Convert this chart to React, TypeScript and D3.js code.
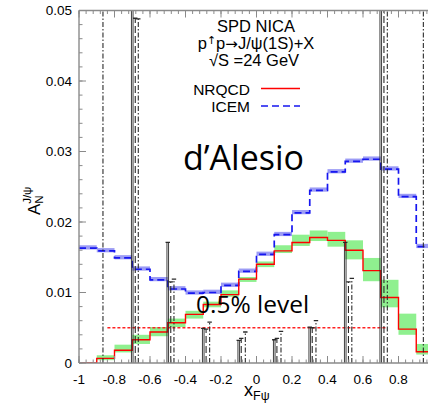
import * as d3 from 'd3'

// bin edges in x_F and the two model curves (one value per bin)
const binEdges = [-1, -0.9, -0.8, -0.7, -0.6, -0.5, -0.4, -0.3, -0.2, -0.1, 0, 0.1, 0.2, 0.3, 0.4, 0.5, 0.6, 0.7, 0.8, 0.9, 1]

const nrqcd = [0, 0.00066, 0.0018, 0.0033, 0.0044, 0.0057, 0.0069, 0.0083, 0.0097, 0.0119, 0.014, 0.0159, 0.0171, 0.0178, 0.0174, 0.016, 0.0131, 0.0093, 0.0048, 0.0016]
const nrqcdLo = [0, 0.0004, 0.0015, 0.0027, 0.0038, 0.0051, 0.0063, 0.0079, 0.0094, 0.0115, 0.0136, 0.0156, 0.0166, 0.0173, 0.0165, 0.0147, 0.0116, 0.0079, 0.004, 0.0012]
const nrqcdHi = [0, 0.0011, 0.0026, 0.004, 0.0051, 0.0063, 0.0074, 0.0087, 0.0103, 0.0122, 0.0144, 0.0167, 0.0182, 0.0188, 0.0186, 0.0174, 0.0149, 0.0118, 0.007, 0.0027]

const icem = [0.0163, 0.0159, 0.0149, 0.0133, 0.0118, 0.0105, 0.0099, 0.01, 0.011, 0.013, 0.0154, 0.0182, 0.0213, 0.0245, 0.0271, 0.0286, 0.0289, 0.0275, 0.0236, 0.0165]
const icemLo = [0.0161, 0.0157, 0.0147, 0.0131, 0.0116, 0.0103, 0.0097, 0.0098, 0.0108, 0.0128, 0.0152, 0.018, 0.0211, 0.0243, 0.0269, 0.0284, 0.0287, 0.0273, 0.0234, 0.0163]
const icemHi = [0.0167, 0.0163, 0.0153, 0.0137, 0.0122, 0.0109, 0.0103, 0.0104, 0.0114, 0.0134, 0.0158, 0.0186, 0.0217, 0.0249, 0.0275, 0.029, 0.0293, 0.0279, 0.024, 0.0169]

// projected statistical errors (drawn from zero up), three samples
const solidX = [-0.7, -0.5, -0.3, -0.1, 0.1, 0.3, 0.5, 0.7]
const solidTop = [0.06, 0.0171, 0.0049, 0.0032, 0.0033, 0.0051, 0.0171, 0.06]
const dashedX = [-0.683, -0.483, -0.284, -0.086, 0.115, 0.314, 0.518, 0.718]
const dashedTop = [0.0489, 0.0115, 0.0048, 0.0035, 0.0035, 0.005, 0.0115, 0.06]
const dashDotX = [-0.865, -0.666, -0.465, -0.264, -0.063, 0.138, 0.335, 0.537, 0.737, 0.94]
const dashDotTop = [0.06, 0.0488, 0.0119, 0.0058, 0.0044, 0.0045, 0.006, 0.012, 0.06, 0.06]

const levelValue = 0.005
const levelRange = [-0.84, 0.73]

const xTicks = [-1, -0.8, -0.6, -0.4, -0.2, 0, 0.2, 0.4, 0.6, 0.8, 1]
const xTickLabels = ['-1', '-0.8', '-0.6', '-0.4', '-0.2', '0', '0.2', '0.4', '0.6', '0.8']
const yTicks = [0, 0.01, 0.02, 0.03, 0.04, 0.05]
const yTickLabels = ['0', '0.01', '0.02', '0.03', '0.04', '0.05']

const W = 428
const H = 405
const x = d3.scaleLinear().domain([-1, 1]).range([79, 434])
const y = d3.scaleLinear().domain([0, 0.05]).range([363, 10.5])

const axisColor = '#8a8a8a'
const sans = '"Liberation Sans", Arial, sans-serif'
const open = '"Open Sans", sans-serif'
const dejavu = '"DejaVu Sans", sans-serif'

function stepPath(vals: number[]) {
  const pts: [number, number][] = vals.map((v, i) => [binEdges[i], v])
  pts.push([binEdges[binEdges.length - 1], vals[vals.length - 1]])
  return d3.line<[number, number]>().x(d => x(d[0])).y(d => y(d[1])).curve(d3.curveStepAfter)(pts) ?? ''
}

function Bars({ xs, tops, dash, double }: { xs: number[]; tops: number[]; dash?: string; double?: boolean }) {
  return (
    <g stroke="#2a2a2a" strokeWidth={1.1} fill="none">
      {xs.map((v, i) => {
        const px = x(v)
        const top = y(Math.min(tops[i], 0.06))
        return (
          <g key={i}>
            {double ? (
              <>
                <line x1={px - 0.8} x2={px - 0.8} y1={y(0)} y2={top} strokeWidth={0.9} />
                <line x1={px + 0.8} x2={px + 0.8} y1={y(0)} y2={top} strokeWidth={0.9} />
              </>
            ) : (
              <line x1={px} x2={px} y1={y(0)} y2={top} strokeDasharray={dash} />
            )}
            {tops[i] < 0.05 && <line x1={px - 2.2} x2={px + 2.2} y1={top} y2={top} strokeWidth={1.3} />}
          </g>
        )
      })}
    </g>
  )
}

export default function App() {
  const bins = nrqcd.map((_, i) => i)
  const xMinor = d3.range(-1, 1.0001, 0.04)
  const yMinor = d3.range(0, 0.0501, 0.002)
  const top = y(0.05)
  const bottom = y(0)
  const left = x(-1)

  return (
    <svg width={W} height={H} style={{ position: 'absolute', left: 0, top: 0, background: '#fff' }}>
      <defs>
        <clipPath id="plot">
          <rect x={left} y={top} width={x(1) - left} height={bottom - top} />
        </clipPath>
      </defs>

      <g clipPath="url(#plot)">
        {/* uncertainty bands */}
        {bins.map(i => (
          <rect key={'g' + i} x={x(binEdges[i])} width={x(binEdges[i + 1]) - x(binEdges[i])}
            y={y(nrqcdHi[i])} height={y(nrqcdLo[i]) - y(nrqcdHi[i])} fill="#8ff08f" />
        ))}
        {bins.map(i => (
          <rect key={'b' + i} x={x(binEdges[i])} width={x(binEdges[i + 1]) - x(binEdges[i])}
            y={y(icemHi[i])} height={y(icemLo[i]) - y(icemHi[i])} fill="#9c9cf5" />
        ))}

        <path d={stepPath(icem)} fill="none" stroke="#1616f0" strokeWidth={1.7} strokeDasharray="7,4" />
        <path d={stepPath(nrqcd)} fill="none" stroke="#f00" strokeWidth={1.4} />

        <line x1={x(levelRange[0])} x2={x(levelRange[1])} y1={y(levelValue)} y2={y(levelValue)}
          stroke="#f22" strokeWidth={1.3} strokeDasharray="3,2" />

        <Bars xs={solidX} tops={solidTop} double />
        <Bars xs={dashedX} tops={dashedTop} dash="7,3" />
        <Bars xs={dashDotX} tops={dashDotTop} dash="5,2,1.5,2" />
      </g>

      {/* frame and ticks */}
      <g stroke={axisColor} fill="none">
        <line x1={left} x2={W} y1={top} y2={top} strokeWidth={1.4} />
        <line x1={left} x2={W} y1={bottom} y2={bottom} strokeWidth={1.4} />
        <line x1={left} x2={left} y1={top} y2={bottom} strokeWidth={1.4} />
        {yMinor.map((v, i) => (
          <line key={'ym' + i} x1={left} x2={left + 3.5} y1={y(v)} y2={y(v)} strokeWidth={1} />
        ))}
        {yTicks.map(v => (
          <line key={'yt' + v} x1={left} x2={left + 7} y1={y(v)} y2={y(v)} strokeWidth={1} />
        ))}
        {xMinor.map((v, i) => (
          <g key={'xm' + i}>
            <line x1={x(v)} x2={x(v)} y1={bottom} y2={bottom - 3.5} strokeWidth={1} />
            <line x1={x(v)} x2={x(v)} y1={top} y2={top + 3.5} strokeWidth={1} />
          </g>
        ))}
        {xTicks.map(v => (
          <g key={'xt' + v}>
            <line x1={x(v)} x2={x(v)} y1={bottom} y2={bottom - 7} strokeWidth={1} />
            <line x1={x(v)} x2={x(v)} y1={top} y2={top + 7} strokeWidth={1} />
          </g>
        ))}
      </g>

      <g fontFamily={sans} fontSize={13.5} fill="#000">
        {yTicks.map((v, i) => (
          <text key={'yl' + v} x={left - 7} y={y(v)} dy="0.36em" textAnchor="end">{yTickLabels[i]}</text>
        ))}
        {xTickLabels.map((s, i) => (
          <text key={'xl' + s} x={x(xTicks[i])} y={384} textAnchor="middle">{s}</text>
        ))}
      </g>

      {/* axis titles */}
      <text fontFamily={sans} fontSize={18} x={244} y={396}>
        x<tspan fontSize={12.5} dy={4}>Fψ</tspan>
      </text>
      <text fontFamily={sans} fontSize={17} transform="translate(40,215) rotate(-90)">
        A<tspan fontSize={11.5} dy={3}>N</tspan>
        <tspan fontSize={11.5} dx={-8.5} dy={-12}>J/ψ</tspan>
      </text>

      {/* header and legend */}
      <g fontFamily={sans} fontSize={16.5} fill="#000" textAnchor="middle">
        <text x={256} y={32}>SPD NICA</text>
        <text x={256} y={49}>
          p<tspan fontFamily={dejavu} fontSize={11} dy={-5}>↑</tspan>
          <tspan dy={5}>p</tspan>
          <tspan fontFamily={dejavu} fontSize={15}>→</tspan>
          <tspan>J/ψ(1S)+X</tspan>
        </text>
        <text x={254} y={66}>√S =24 GeV</text>
      </g>
      <g fontFamily={sans} fontSize={15.5} fill="#000" textAnchor="end">
        <text x={250} y={95}>NRQCD</text>
        <text x={250} y={112}>ICEM</text>
      </g>
      <line x1={261} x2={300} y1={88.5} y2={88.5} stroke="#f00" strokeWidth={1.4} />
      <line x1={261} x2={300} y1={106} y2={106} stroke="#1616f0" strokeWidth={1.7} strokeDasharray="7,4" />

      <text fontFamily={open} fontSize={34} x={183} y={170} fill="#000">d’Alesio</text>
      <text fontFamily={open} fontSize={24.5} x={196} y={313} fill="#000">0.5% level</text>
    </svg>
  )
}
